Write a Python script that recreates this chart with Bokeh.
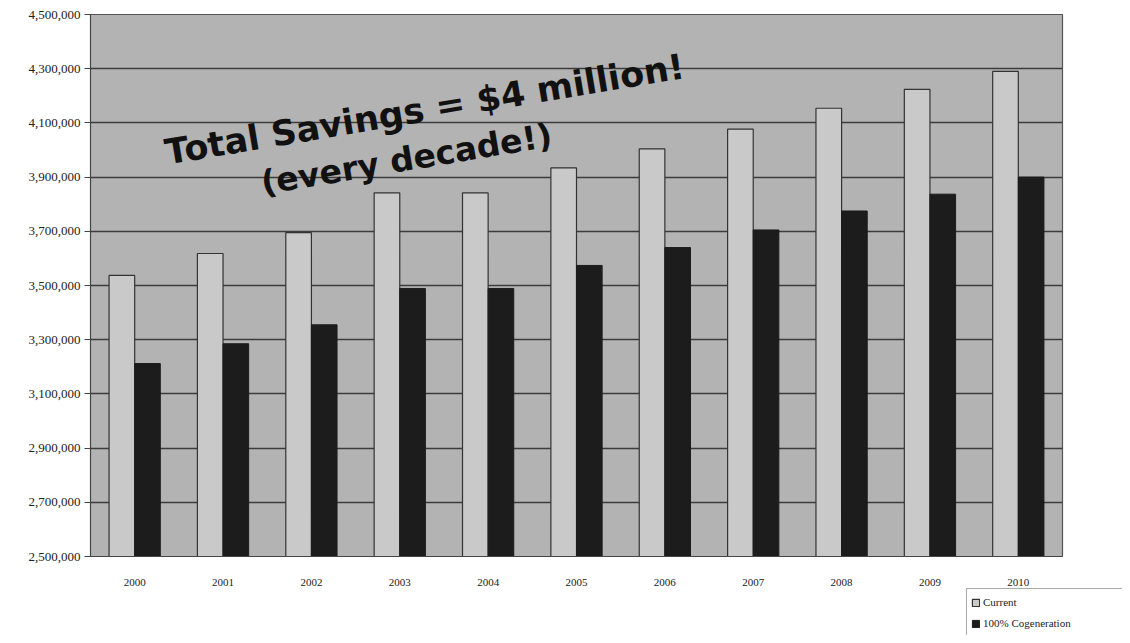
from bokeh.plotting import figure
from bokeh.models import ColumnDataSource, FactorRange, Range1d, FixedTicker, NumeralTickFormatter, Legend, LegendItem, Label, Spacer
from bokeh.layouts import column, row
from bokeh.transform import dodge
from bokeh.embed import file_html
from bokeh.resources import INLINE

years = ["2000", "2001", "2002", "2003", "2004", "2005", "2006", "2007", "2008", "2009", "2010"]
current = [3537000, 3618000, 3695000, 3842000, 3842000, 3934000, 4004000, 4077000, 4154000, 4224000, 4290000]
cogeneration = [3212000, 3285000, 3355000, 3489000, 3489000, 3574000, 3640000, 3705000, 3775000, 3837000, 3900000]
y_ticks = [2500000, 2700000, 2900000, 3100000, 3300000, 3500000, 3700000, 3900000, 4100000, 4300000, 4500000]
series_names = ["Current", "100% Cogeneration"]

CUR_FILL = "#c9c9c9"
COG_FILL = "#1c1c1c"

src = ColumnDataSource(dict(year=years, current=current, cog=cogeneration))

p = figure(x_range=FactorRange(*years), y_range=Range1d(2500000, 4500000),
           width=1122, height=588, output_backend="svg", toolbar_location=None,
           min_border_left=90, min_border_top=14, min_border_right=60, min_border_bottom=30)
p.background_fill_color = "#b3b3b3"
p.border_fill_color = "white"
p.outline_line_color = "#555555"
p.outline_line_width = 1.2
p.x_range.range_padding = 0
p.x_range.group_padding = 0

base = 2500000
p.vbar(x=dodge("year", -0.145, range=p.x_range), top="current", bottom=base, width=0.29, source=src,
       fill_color=CUR_FILL, line_color="#333333", line_width=1.2)
p.vbar(x=dodge("year", 0.145, range=p.x_range), top="cog", bottom=base, width=0.29, source=src,
       fill_color=COG_FILL, line_color=COG_FILL, line_width=1)

p.yaxis.ticker = FixedTicker(ticks=y_ticks)
p.yaxis.formatter = NumeralTickFormatter(format="0,0")
p.ygrid.ticker = FixedTicker(ticks=y_ticks)
p.ygrid.grid_line_color = "#3c3c3c"
p.ygrid.grid_line_width = 1.5
p.xgrid.grid_line_color = None

for ax in (p.xaxis[0], p.yaxis[0]):
    ax.major_label_text_font = "Liberation Serif"
    ax.major_label_text_font_size = "11px"
    ax.major_label_text_color = "#222222"
    ax.axis_line_color = "#444444"
    ax.major_tick_line_color = "#444444"
    ax.minor_tick_line_color = None
p.yaxis.major_label_text_font_size = "13px"
p.yaxis.major_tick_in = 0
p.yaxis.major_tick_out = 6
p.xaxis.major_tick_line_color = None
p.xaxis.major_label_standoff = 16
p.yaxis.major_label_standoff = 4

t1 = Label(x=78, y=384, x_units="screen", y_units="screen", text="Total Savings = $4 million!",
           text_font="DejaVu Sans", text_font_style="bold", text_font_size="35px", text_color="#111111",
           angle=9.5, angle_units="deg")
t2 = Label(x=174, y=354, x_units="screen", y_units="screen", text="(every decade!)",
           text_font="DejaVu Sans", text_font_style="bold", text_font_size="33px", text_color="#111111",
           angle=9.5, angle_units="deg")
p.add_layout(t1)
p.add_layout(t2)

# legend in its own small figure, below and to the right of the chart
lf = figure(width=156, height=47, x_range=Range1d(0, 1), y_range=Range1d(0, 1),
            output_backend="svg", toolbar_location=None,
            min_border_left=0, min_border_right=0, min_border_top=0, min_border_bottom=0)
lf.axis.visible = False
lf.grid.grid_line_color = None
lf.outline_line_color = None
lf.background_fill_color = None
# zero-size placeholder glyphs (hidden under the legend box) so the legend swatches render
lsrc = ColumnDataSource(dict(l=[0], r=[0], t=[0], b=[0]))
g1 = lf.quad(left="l", right="r", top="t", bottom="b", source=lsrc, fill_color=CUR_FILL, line_color="#333333", line_width=1.2)
g2 = lf.quad(left="l", right="r", top="t", bottom="b", source=lsrc, fill_color=COG_FILL, line_color=COG_FILL)
legend = Legend(items=[LegendItem(label=series_names[0], renderers=[g1]),
                       LegendItem(label=series_names[1], renderers=[g2])],
                location="top_left", label_text_font="Liberation Serif", label_text_font_size="11px",
                label_text_color="#222222", border_line_color="#555555", background_fill_color="white",
                glyph_width=9, glyph_height=9, label_standoff=3, spacing=3, padding=4, margin=0,
                label_height=18, label_width=140)
lf.add_layout(legend, "center")

layout = column(p, row(Spacer(width=966, height=47), lf))
open("out.html", "w").write(file_html(layout, INLINE))
